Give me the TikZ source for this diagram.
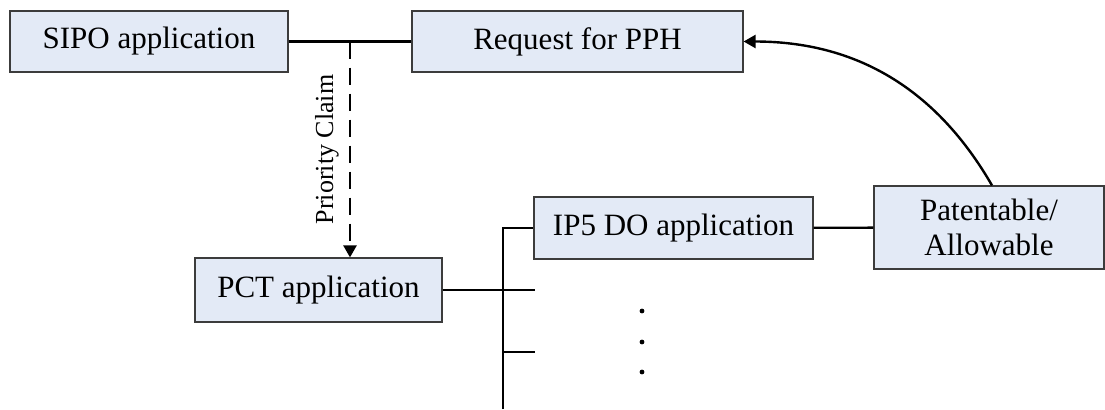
\documentclass[tikz,border=0pt]{standalone}
\usepackage{fontspec}
\setmainfont{Liberation Serif}
\usetikzlibrary{arrows.meta}

\definecolor{boxfill}{RGB}{227,234,246}
\definecolor{boxline}{RGB}{60,60,60}

\tikzset{
  appbox/.style={rectangle,draw=boxline,line width=0.6pt,fill=boxfill,
    inner sep=0pt,align=center,font=\fontsize{15.5}{17.5}\selectfont},
  link/.style={line width=1.2pt,black},
  claim/.style={link,dash pattern=on 8.5pt off 4.5pt,
    -{Triangle[length=6pt,width=6.5pt]}},
  grant/.style={link,-{Triangle[length=6pt,width=6.5pt]}}
}

\begin{document}
\begin{tikzpicture}[x=0.5pt,y=-0.5pt]

      \useasboundingbox (0,0) rectangle (1105,409);

      \begin{scope}[every node/.style={appbox}]
        \node[minimum width=139pt,minimum height=30.5pt] (sipo) at (149,41.5) {SIPO application};
        \node[minimum width=165.5pt,minimum height=30.5pt] (pph) at (577.5,41.5) {Request for PPH};
        \node[minimum width=123.5pt,minimum height=32pt] (pct) at (318.5,290) {PCT application};
        \node[minimum width=139.5pt,minimum height=31pt] (ip5) at (673.5,228) {IP5 DO application};
        \node[minimum width=115pt,minimum height=41.5pt] (pat) at (989,227.5) {Patentable/\\Allowable};
      \end{scope}

      % junction and trunk points
      \coordinate (jn) at (350,41.5);
      \coordinate (trtop) at (503,228);
      \coordinate (trbot) at (503,409);
      \coordinate (br1) at (535,290);
      \coordinate (br2s) at (503,352);
      \coordinate (br2) at (535,352);

      \foreach \y [count=\i] in {311,342,372}
        \node[circle,fill=black,inner sep=0pt,minimum size=2.4pt] (dot\i) at (642,\y) {};

      \draw[link] (sipo) -- (pph);
      \draw[claim] (jn) -- node[midway,rotate=90,anchor=south,inner sep=5pt,
        font=\fontsize{13}{15}\selectfont] (prio) {Priority Claim} (jn |- pct.north);
      \draw[link] (pct.east) -- (br1);
      \draw[link] (trbot) -- (trtop) -- (ip5.west);
      \draw[link] (br2s) -- (br2);
      \draw[link] (ip5) -- (pat);
      \draw[grant] ([xshift=1.5pt]pat.north) to[out=120,in=0] (pph.east);

    \end{tikzpicture}
\end{document}
